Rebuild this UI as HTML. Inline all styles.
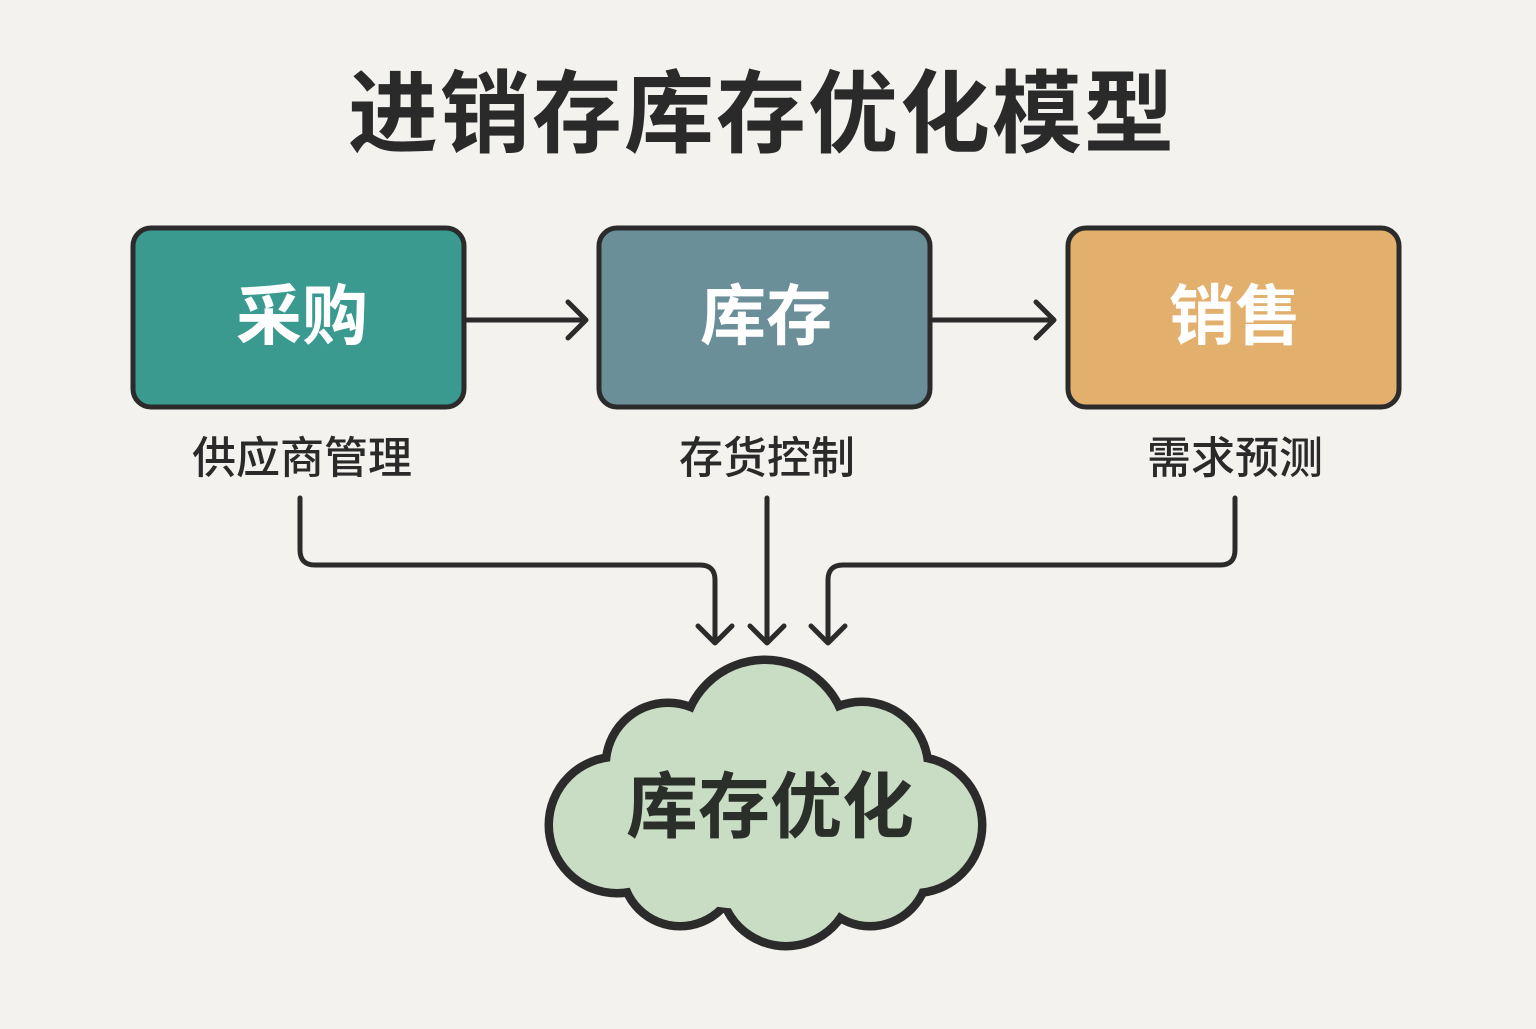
<!DOCTYPE html>
<html><head><meta charset="utf-8"><style>
html,body{margin:0;padding:0;background:#f3f2ee;}
body{width:1536px;height:1024px;overflow:hidden;}
svg text{font-family:"Liberation Sans","Noto Sans CJK SC",sans-serif;}
</style></head><body>
<svg width="1536" height="1024" viewBox="0 0 1536 1024" xmlns="http://www.w3.org/2000/svg">
<rect width="1536" height="1024" fill="#f3f2ee"/>
<text x="762" y="145" text-anchor="middle" font-size="90" font-weight="bold" fill="#2a2a2a" letter-spacing="2">进销存库存优化模型</text>
<g stroke="#2b2b2b" stroke-width="5">
<rect x="133" y="228" width="331" height="179" rx="18" fill="#3a9a90"/>
<rect x="599" y="228" width="331" height="179" rx="18" fill="#6a8f98"/>
<rect x="1068" y="228" width="331" height="179" rx="18" fill="#e2b06c"/>
</g>
<g font-size="66" font-weight="bold" fill="#fff" text-anchor="middle">
<text x="302" y="339">采购</text>
<text x="766" y="339">库存</text>
<text x="1235" y="339">销售</text>
</g>
<g font-size="44" font-weight="500" fill="#2a2a2a" text-anchor="middle">
<text x="302" y="473">供应商管理</text>
<text x="767" y="473">存货控制</text>
<text x="1235" y="473">需求预测</text>
</g>
<g fill="none" stroke="#2b2b2b" stroke-width="5" stroke-linecap="round" stroke-linejoin="round">
<path d="M467 320H585M568 302L586 320L568 338"/>
<path d="M933 320H1053M1036 302L1054 320L1036 338"/>
<path d="M300 498V550Q300 565 315 565H700Q715 565 715 580V643M698 626L715 643L732 626"/>
<path d="M767 498V643M750 626L767 643L784 626"/>
<path d="M1235 498V550Q1235 565 1220 565H843Q828 565 828 580V643M811 626L828 643L845 626"/>
</g>
<g stroke="#2b2b2b" stroke-width="9" fill="#c9dcc4">
<circle cx="765" cy="742" r="82"/>
<circle cx="668" cy="765" r="62"/>
<circle cx="862" cy="768" r="66"/>
<circle cx="617" cy="825" r="68"/>
<circle cx="914" cy="825" r="68"/>
<circle cx="680" cy="868" r="58"/>
<circle cx="786" cy="880" r="66"/>
<circle cx="870" cy="868" r="58"/>
</g>
<g fill="#c9dcc4">
<circle cx="765" cy="742" r="78"/>
<circle cx="668" cy="765" r="58"/>
<circle cx="862" cy="768" r="62"/>
<circle cx="617" cy="825" r="64"/>
<circle cx="914" cy="825" r="64"/>
<circle cx="680" cy="868" r="54"/>
<circle cx="786" cy="880" r="62"/>
<circle cx="870" cy="868" r="54"/>
<ellipse cx="765" cy="820" rx="180" ry="90"/>
</g>
<text x="770" y="832" text-anchor="middle" font-size="72" font-weight="bold" fill="#2b2f2a">库存优化</text>
</svg>
</body></html>
